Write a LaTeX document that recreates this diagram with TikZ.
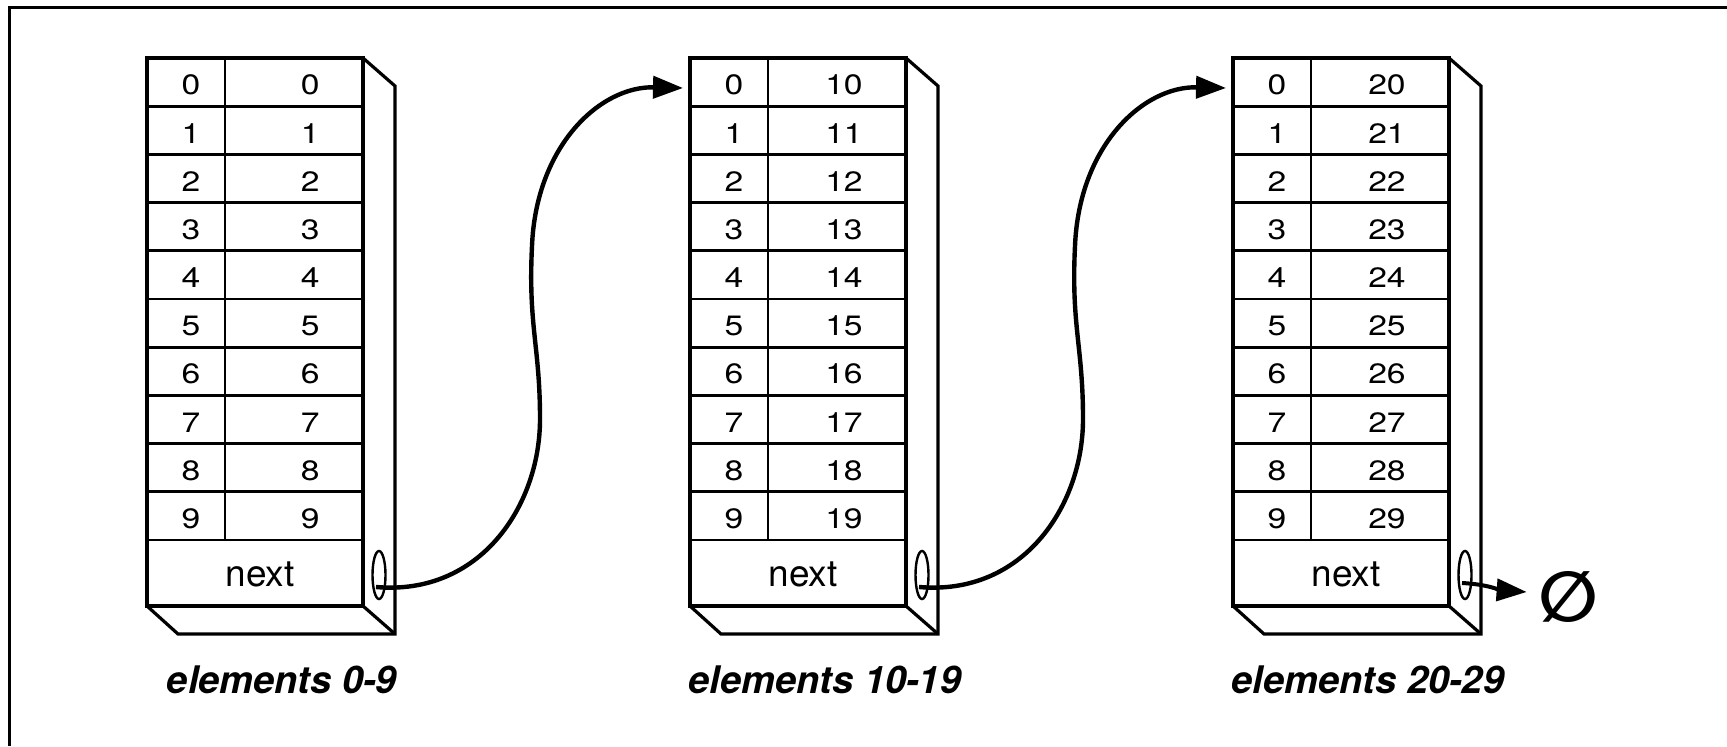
\documentclass[tikz,border=0pt]{standalone}
\usepackage{fontspec}
\setmainfont{TeX Gyre Heros}
\newfontfamily\digitfont[FakeStretch=1.2]{TeX Gyre Heros}
\newfontfamily\symfont{DejaVu Sans}
\usetikzlibrary{arrows.meta,shapes.geometric,calc}
\tikzset{
  cellnum/.style={font=\digitfont\fontsize{14}{16}\selectfont,inner sep=0pt},
  nextlabel/.style={font=\fontsize{18.5}{20}\selectfont,inner sep=0pt},
  blocklabel/.style={font=\bfseries\itshape\fontsize{19}{22}\selectfont,inner sep=0pt},
  hole/.style={draw,ellipse,line width=1.2pt,minimum width=6.5pt,minimum height=24pt,inner sep=0pt},
  link/.style={line width=2.2pt,-{Triangle[length=15pt,width=11pt]}}
}
\begin{document}
\begin{tikzpicture}[x=0.5pt,y=0.5pt,line width=1.4pt]
\useasboundingbox (0,0) rectangle (1727,746);
% frame
\draw[line width=1.5pt] (9,0) -- (9,738) -- (1727,738);
% the three arrays
\foreach \b/\x/\lbl in {0/147/0-9,1/690/10-19,2/1233/20-29}{
  \draw[line width=1.6pt] (\x,140) rectangle (\x+216,688);
  \draw[line width=1.6pt] (\x+216,688) -- (\x+248,660) -- (\x+248,112) -- (\x+31,112) -- (\x,140);
  \draw[line width=1.6pt] (\x+216,140) -- (\x+248,112);
  \draw (\x+78,688) -- (\x+78,206);
  \foreach \k in {1,...,10}
    \draw (\x,688-48.2*\k) -- (\x+216,688-48.2*\k);
  \foreach \r in {0,...,9}{
    \pgfmathtruncatemacro\v{10*\b+\r}
    \node[cellnum] (idx-\b-\r) at (\x+44,661-48.2*\r) {\r};
    \node[cellnum,anchor=east] (val-\b-\r) at (\x+174,661-48.2*\r) {\v};
  }
  \coordinate (top-\b) at (\x,664);
  \node[nextlabel] (next-\b) at (\x+113,172) {next};
  \node[hole] (hole-\b) at (\x+232,171) {};
  \node[blocklabel] (label-\b) at (\x+135,66) {elements \lbl};
}
% links between arrays
\foreach \b/\n in {0/1,1/2}
  \draw[link] ([shift={(-3,-12)}]hole-\b.center)
    .. controls +(104,-9) and +(0,-87) .. ($(hole-\b)+(161,156)$)
    .. controls +(0,73) and +(-4,-80) .. ($(hole-\b)+(153,329)$)
    .. controls +(4,100) and +(-83,2) .. ([shift={(-7,-6)}]top-\n);
% end of the list
\node[font=\symfont\bfseries\fontsize{35}{38}\selectfont,inner sep=0pt] (nil) at (1568,149) {∅};
\draw[line width=2pt,-{Triangle[length=15pt,width=11pt]}] ([shift={(-3,-8)}]hole-2.center)
  to[out=-3,in=176] ($(nil.west)+(-10,5)$);
\end{tikzpicture}
\end{document}
